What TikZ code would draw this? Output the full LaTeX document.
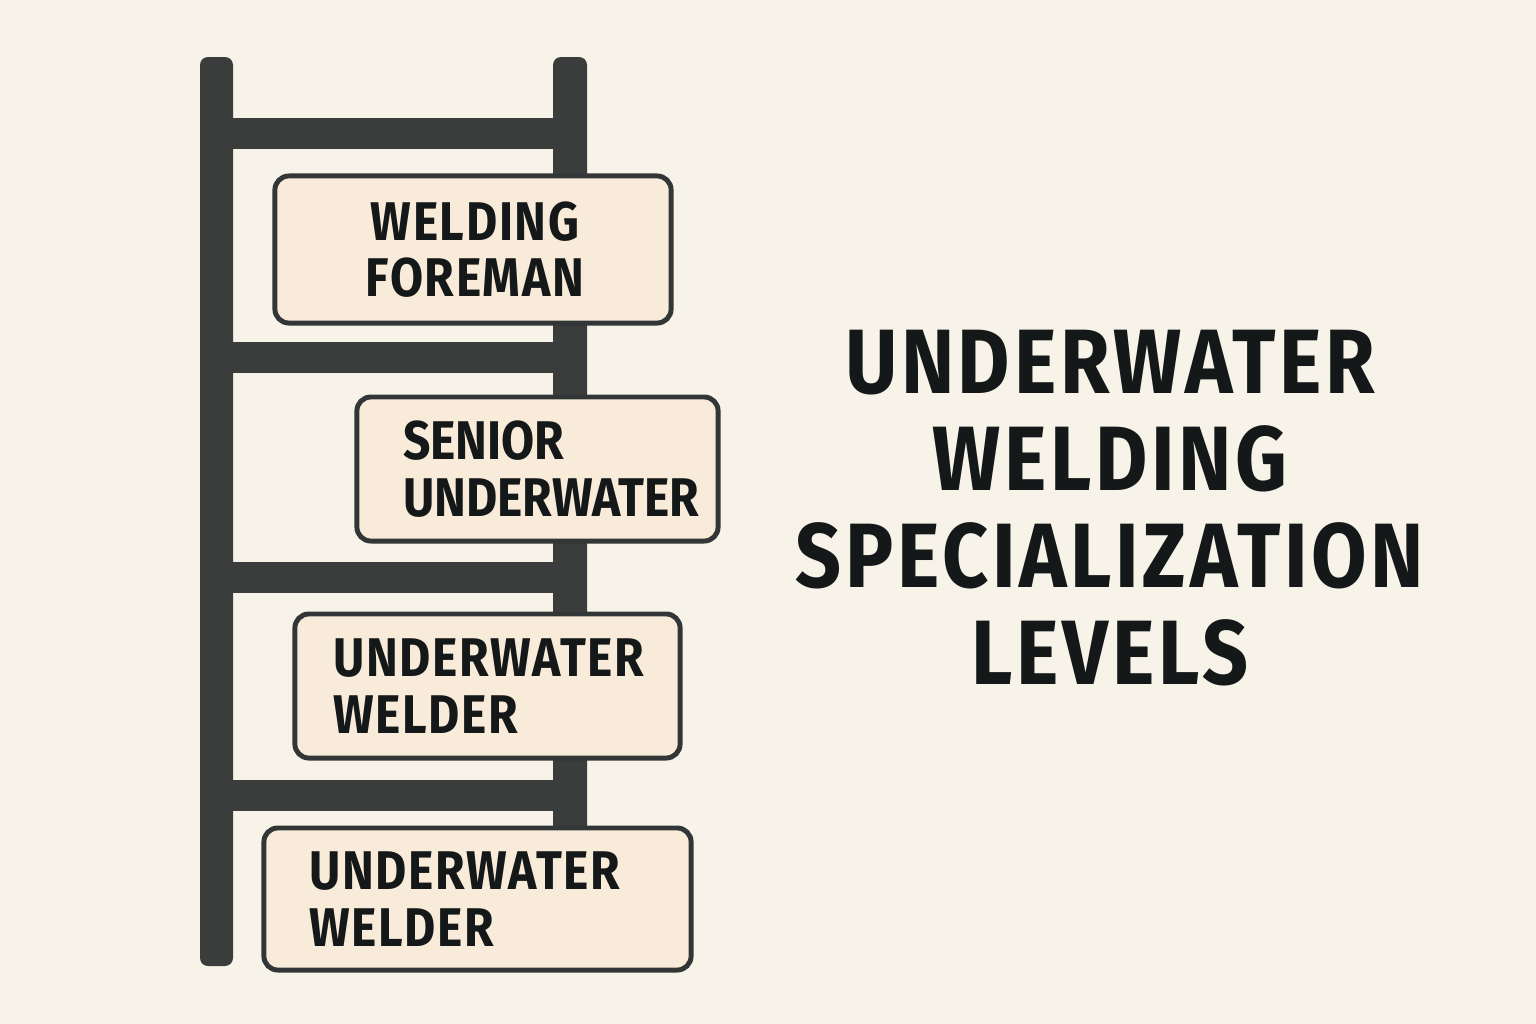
\documentclass[tikz,border=0pt]{standalone}
\usepackage{fontspec}
\setmainfont{Fira Sans}
\newfontfamily\signfont{Fira Sans}[FakeStretch=0.88, LetterSpace=3]
\newfontfamily\headfont{Fira Sans}[FakeStretch=0.88, LetterSpace=4]
\usetikzlibrary{positioning}

\definecolor{paper}{HTML}{F7F3E9}
\definecolor{rail}{HTML}{3A3D3C}
\definecolor{signFill}{HTML}{F8EBD9}
\definecolor{signEdge}{HTML}{333636}
\definecolor{ink}{HTML}{141818}

\tikzstyle{ladderBar} = [
    fill=rail,
    rounded corners=0.08cm
    ]
\tikzstyle{creamSign} = [
    rectangle,
    draw=signEdge,
    fill=signFill,
    line width=1.4pt,
    rounded corners=0.14cm,
    inner sep=0pt
    ]
\tikzstyle{signText} = [
    text=ink,
    font=\signfont\bfseries\fontsize{15.5}{16}\selectfont,
    align=left,
    inner sep=0pt
    ]
\tikzstyle{titleText} = [
    text=ink,
    font=\headfont\bfseries\fontsize{26}{27.6}\selectfont,
    align=center,
    inner sep=0pt
    ]

\begin{document}
\begin{tikzpicture}[x=0.01cm, y=-0.01cm]
      % paper
      \fill[paper] (0,0) rectangle (1536,1024);
      \useasboundingbox (0,0) rectangle (1536,1024);

      % ladder
      \fill[ladderBar] (200,57) rectangle (233,966);
      \fill[ladderBar] (553,57) rectangle (587,840);
      \foreach \y in {118,342,562,780}
        \fill[rail] (230,\y) rectangle (556,\y+31);

      % signs on the rungs
      \node[creamSign, minimum width=3.96cm, minimum height=1.47cm] at (473,249.5) (foreman) {};
      \node[signText, align=center] at ([xshift=0.02cm]foreman.center) (foremanText) {WELDING\\FOREMAN};

      \node[creamSign, minimum width=3.61cm, minimum height=1.44cm] at (537.5,469) (senior) {};
      \node[signText, anchor=west, font=\signfont\bfseries\addfontfeatures{LetterSpace=0}\fontsize{15.5}{16}\selectfont] at ([xshift=0.48cm]senior.west) (seniorText) {SENIOR\\UNDERWATER};

      \node[creamSign, minimum width=3.85cm, minimum height=1.44cm] at (487.5,686) (welder) {};
      \node[signText, anchor=west] at ([xshift=0.40cm]welder.west) (welderText) {UNDERWATER\\WELDER};

      \node[creamSign, minimum width=4.27cm, minimum height=1.42cm] at (477.5,899) (entry) {};
      \node[signText, anchor=west] at ([xshift=0.47cm]entry.west) (entryText) {UNDERWATER\\WELDER};

      % title
      \node[titleText] at (1110,508) (title) {UNDERWATER\\WELDING\\SPECIALIZATION\\LEVELS};
\end{tikzpicture}
\end{document}
